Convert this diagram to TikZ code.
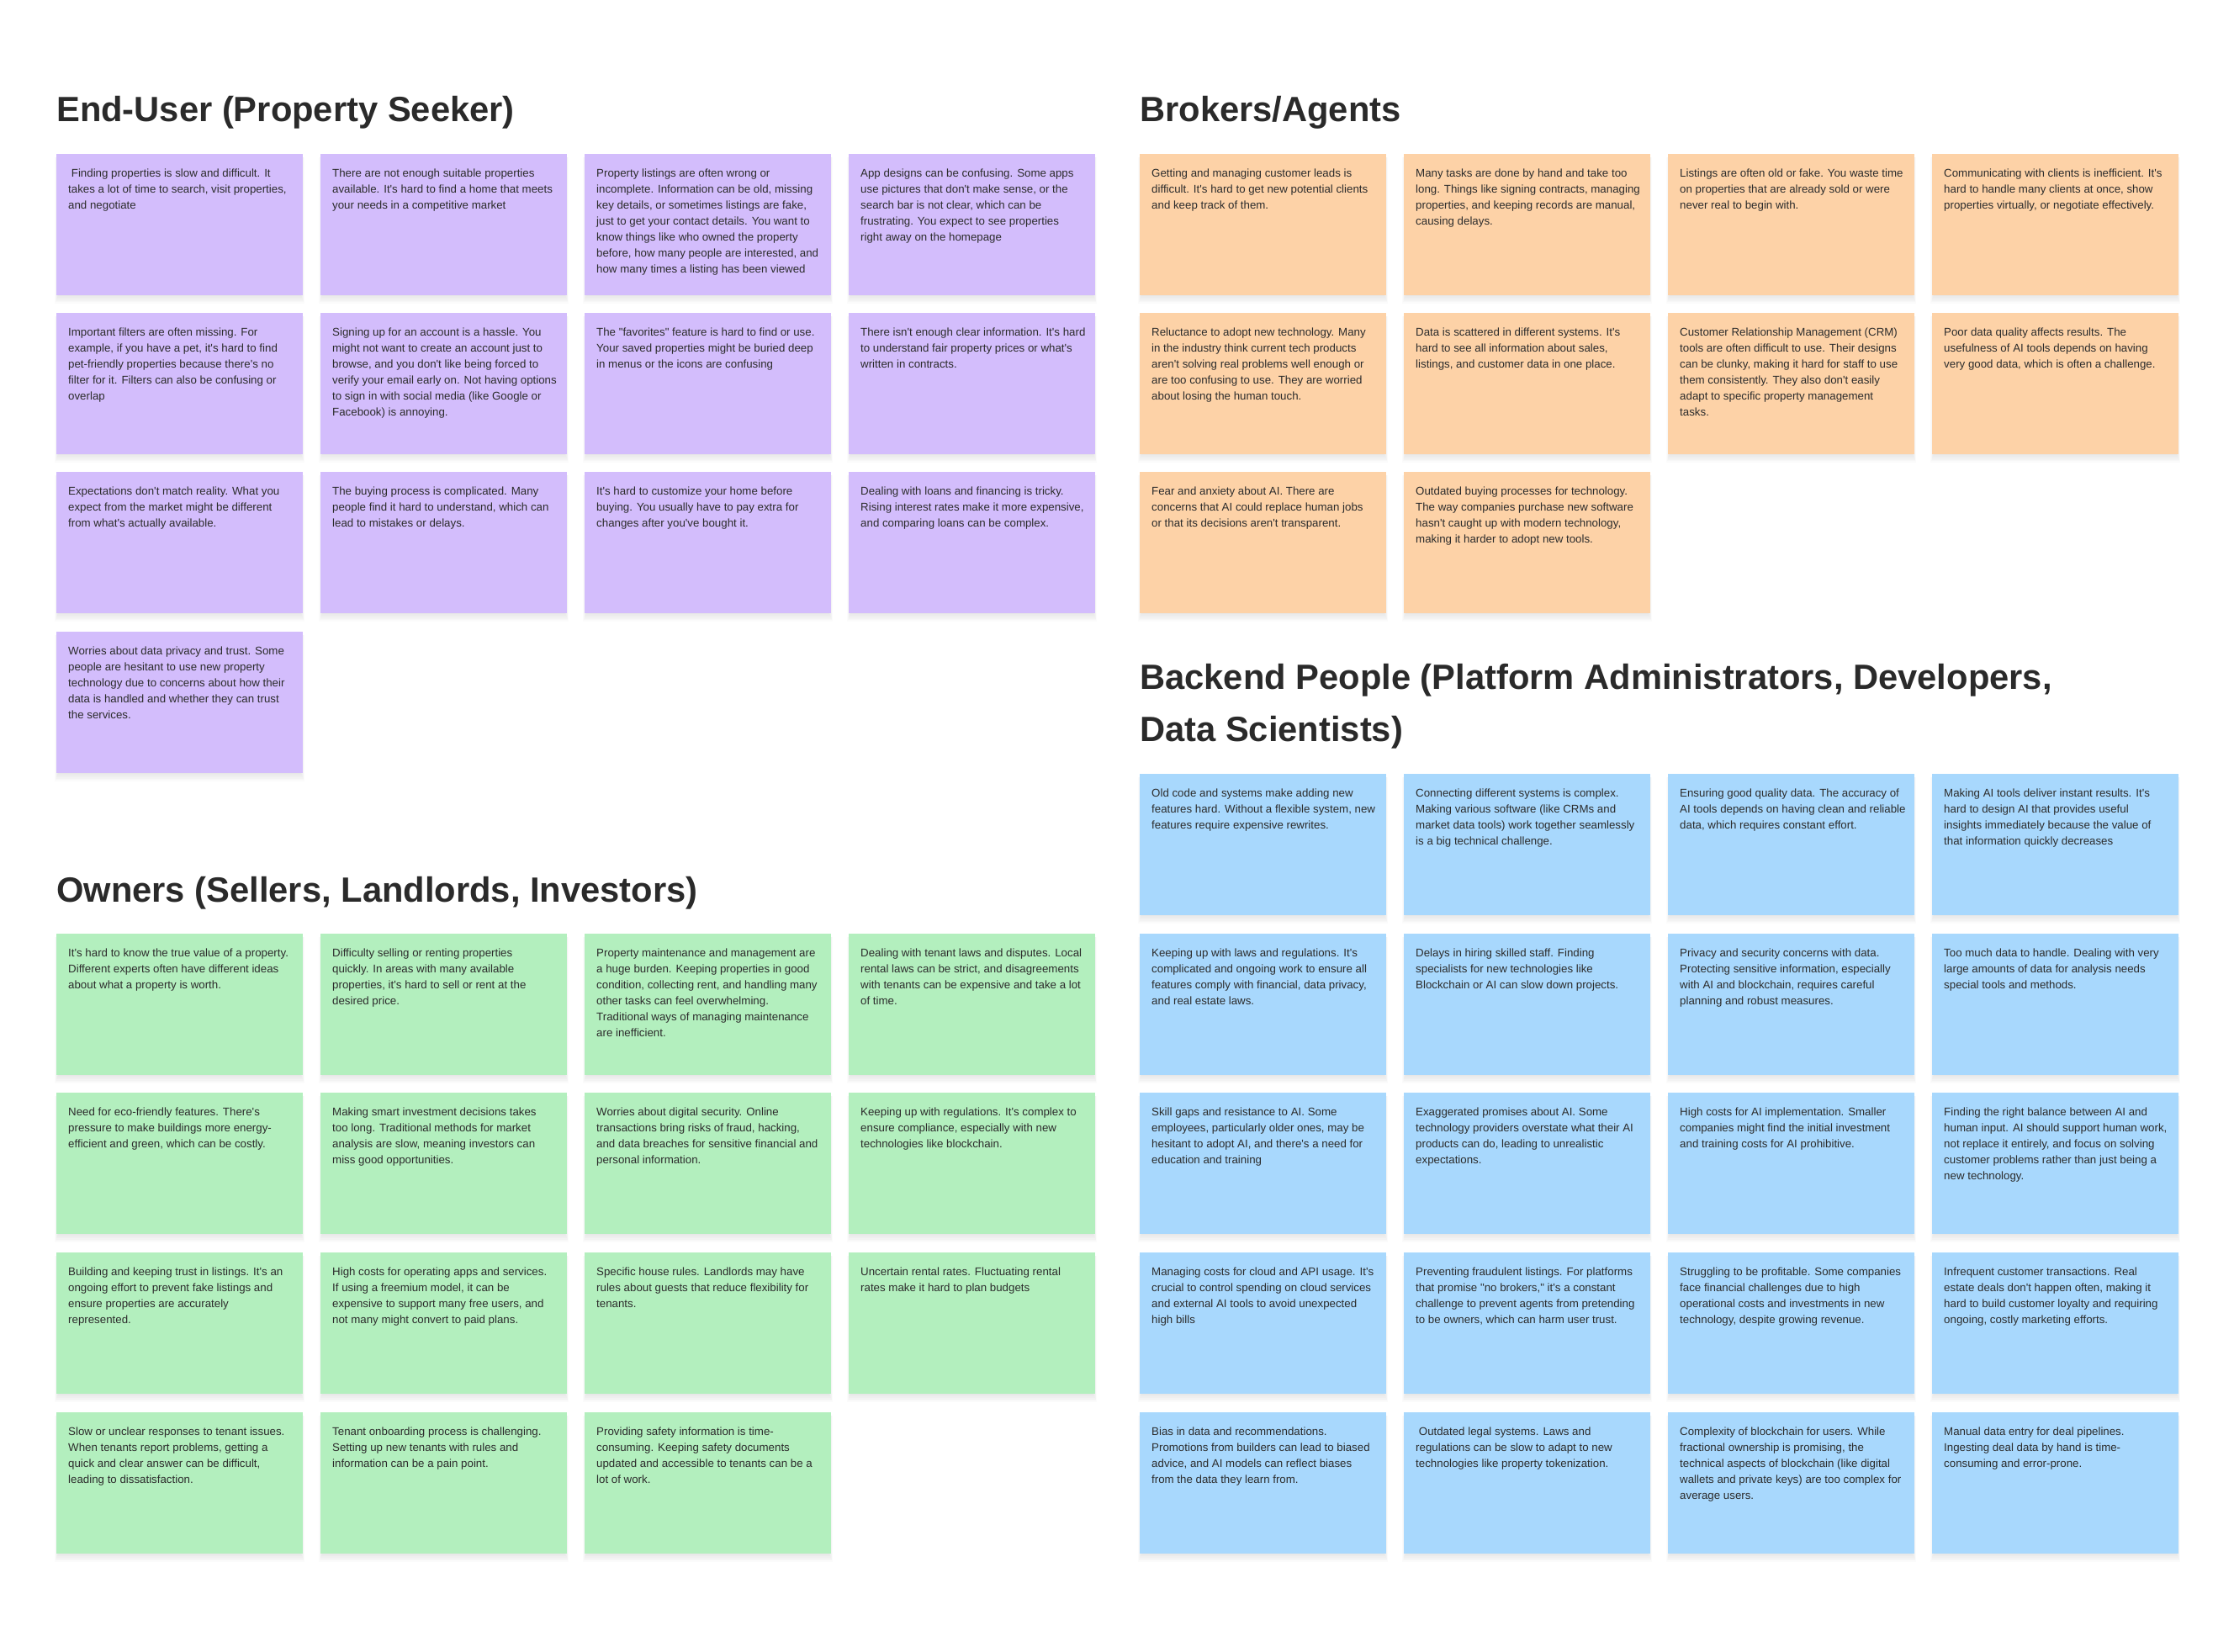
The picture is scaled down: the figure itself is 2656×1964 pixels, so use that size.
\documentclass[tikz,border=0pt]{standalone}
\usepackage{fontspec}
\newfontfamily\notefont{Liberation Sans}
\definecolor{purp}{HTML}{D3BDFC}
\definecolor{oran}{HTML}{FDD2A7}
\definecolor{gree}{HTML}{B3EFBE}
\definecolor{blue}{HTML}{A8D8FD}
\definecolor{notetext}{HTML}{2C2C2C}
\definecolor{headtext}{HTML}{2A2A2A}
\tikzset{
 stickybox/.style={anchor=north west, minimum width=293pt, minimum height=168pt, inner sep=0pt, outer sep=0pt, draw=none},
 stickyshadow/.style={fill=black, fill opacity=0.016, draw=none},
 stickytext/.style={anchor=north west, inner sep=0pt, align=left, text=notetext, font=\notefont\fontsize{13.3}{19}\selectfont},
 heading/.style={anchor=base west, inner sep=0pt, align=left, text=headtext, font=\notefont\bfseries\fontsize{41.7}{62}\selectfont},
}
\newcommand\sticky[5]{%
 \foreach \i in {1,...,7}{\fill[stickyshadow] ({#2+4-0.9*\i},{#3+4}) rectangle ({#2+289+0.9*\i},{#3+166+1.7*\i});}
 \node[stickybox, fill=#4] (#1) at (#2,#3) {};
 \node[stickytext] (#1t) at ([shift={(14,18)}]#1.north west) {#5};
}
\begin{document}
\begin{tikzpicture}[x=1pt,y=-1pt]
\fill[white] (0,0) rectangle (2656,1964);
\useasboundingbox (0,0) rectangle (2656,1964);

% ---------- headings ----------
\node[heading] (hEnd) at (67,145) {End-User (Property Seeker)};
\node[heading] (hBro) at (1355,145) {Brokers/Agents};
\node[heading] (hOwn) at (67,1072) {Owners (Sellers, Landlords, Investors)};
\node[heading, anchor=north west] (hBack) at (1355,789) {Backend People (Platform Administrators, Developers,\\Data Scientists)};

% ---------- End-User ----------
\sticky{e1}{67}{183}{purp}{\ Finding properties is slow and difficult. It\\takes a lot of time to search, visit properties,\\and negotiate}
\sticky{e2}{381}{183}{purp}{There are not enough suitable properties\\available. It's hard to find a home that meets\\your needs in a competitive market}
\sticky{e3}{695}{183}{purp}{Property listings are often wrong or\\incomplete. Information can be old, missing\\key details, or sometimes listings are fake,\\just to get your contact details. You want to\\know things like who owned the property\\before, how many people are interested, and\\how many times a listing has been viewed}
\sticky{e4}{1009}{183}{purp}{App designs can be confusing. Some apps\\use pictures that don't make sense, or the\\search bar is not clear, which can be\\frustrating. You expect to see properties\\right away on the homepage}
\sticky{e5}{67}{372}{purp}{Important filters are often missing. For\\example, if you have a pet, it's hard to find\\pet-friendly properties because there's no\\filter for it. Filters can also be confusing or\\overlap}
\sticky{e6}{381}{372}{purp}{Signing up for an account is a hassle. You\\might not want to create an account just to\\browse, and you don't like being forced to\\verify your email early on. Not having options\\to sign in with social media (like Google or\\Facebook) is annoying.}
\sticky{e7}{695}{372}{purp}{The "favorites" feature is hard to find or use.\\Your saved properties might be buried deep\\in menus or the icons are confusing}
\sticky{e8}{1009}{372}{purp}{There isn't enough clear information. It's hard\\to understand fair property prices or what's\\written in contracts.}
\sticky{e9}{67}{561}{purp}{Expectations don't match reality. What you\\expect from the market might be different\\from what's actually available.}
\sticky{e10}{381}{561}{purp}{The buying process is complicated. Many\\people find it hard to understand, which can\\lead to mistakes or delays.}
\sticky{e11}{695}{561}{purp}{It's hard to customize your home before\\buying. You usually have to pay extra for\\changes after you've bought it.}
\sticky{e12}{1009}{561}{purp}{Dealing with loans and financing is tricky.\\Rising interest rates make it more expensive,\\and comparing loans can be complex.}
\sticky{e13}{67}{751}{purp}{Worries about data privacy and trust. Some\\people are hesitant to use new property\\technology due to concerns about how their\\data is handled and whether they can trust\\the services.}

% ---------- Owners ----------
\sticky{o1}{67}{1110}{gree}{It's hard to know the true value of a property.\\Different experts often have different ideas\\about what a property is worth.}
\sticky{o2}{381}{1110}{gree}{Difficulty selling or renting properties\\quickly. In areas with many available\\properties, it's hard to sell or rent at the\\desired price.}
\sticky{o3}{695}{1110}{gree}{Property maintenance and management are\\a huge burden. Keeping properties in good\\condition, collecting rent, and handling many\\other tasks can feel overwhelming.\\Traditional ways of managing maintenance\\are inefficient.}
\sticky{o4}{1009}{1110}{gree}{Dealing with tenant laws and disputes. Local\\rental laws can be strict, and disagreements\\with tenants can be expensive and take a lot\\of time.}
\sticky{o5}{67}{1299}{gree}{Need for eco-friendly features. There's\\pressure to make buildings more energy-\\efficient and green, which can be costly.}
\sticky{o6}{381}{1299}{gree}{Making smart investment decisions takes\\too long. Traditional methods for market\\analysis are slow, meaning investors can\\miss good opportunities.}
\sticky{o7}{695}{1299}{gree}{Worries about digital security. Online\\transactions bring risks of fraud, hacking,\\and data breaches for sensitive financial and\\personal information.}
\sticky{o8}{1009}{1299}{gree}{Keeping up with regulations. It's complex to\\ensure compliance, especially with new\\technologies like blockchain.}
\sticky{o9}{67}{1489}{gree}{Building and keeping trust in listings. It's an\\ongoing effort to prevent fake listings and\\ensure properties are accurately\\represented.}
\sticky{o10}{381}{1489}{gree}{High costs for operating apps and services.\\If using a freemium model, it can be\\expensive to support many free users, and\\not many might convert to paid plans.}
\sticky{o11}{695}{1489}{gree}{Specific house rules. Landlords may have\\rules about guests that reduce flexibility for\\tenants.}
\sticky{o12}{1009}{1489}{gree}{Uncertain rental rates. Fluctuating rental\\rates make it hard to plan budgets}
\sticky{o13}{67}{1679}{gree}{Slow or unclear responses to tenant issues.\\When tenants report problems, getting a\\quick and clear answer can be difficult,\\leading to dissatisfaction.}
\sticky{o14}{381}{1679}{gree}{Tenant onboarding process is challenging.\\Setting up new tenants with rules and\\information can be a pain point.}
\sticky{o15}{695}{1679}{gree}{Providing safety information is time-\\consuming. Keeping safety documents\\updated and accessible to tenants can be a\\lot of work.}

% ---------- Brokers ----------
\sticky{b1}{1355}{183}{oran}{Getting and managing customer leads is\\difficult. It's hard to get new potential clients\\and keep track of them.}
\sticky{b2}{1669}{183}{oran}{Many tasks are done by hand and take too\\long. Things like signing contracts, managing\\properties, and keeping records are manual,\\causing delays.}
\sticky{b3}{1983}{183}{oran}{Listings are often old or fake. You waste time\\on properties that are already sold or were\\never real to begin with.}
\sticky{b4}{2297}{183}{oran}{Communicating with clients is inefficient. It's\\hard to handle many clients at once, show\\properties virtually, or negotiate effectively.}
\sticky{b5}{1355}{372}{oran}{Reluctance to adopt new technology. Many\\in the industry think current tech products\\aren't solving real problems well enough or\\are too confusing to use. They are worried\\about losing the human touch.}
\sticky{b6}{1669}{372}{oran}{Data is scattered in different systems. It's\\hard to see all information about sales,\\listings, and customer data in one place.}
\sticky{b7}{1983}{372}{oran}{Customer Relationship Management (CRM)\\tools are often difficult to use. Their designs\\can be clunky, making it hard for staff to use\\them consistently. They also don't easily\\adapt to specific property management\\tasks.}
\sticky{b8}{2297}{372}{oran}{Poor data quality affects results. The\\usefulness of AI tools depends on having\\very good data, which is often a challenge.}
\sticky{b9}{1355}{561}{oran}{Fear and anxiety about AI. There are\\concerns that AI could replace human jobs\\or that its decisions aren't transparent.}
\sticky{b10}{1669}{561}{oran}{Outdated buying processes for technology.\\The way companies purchase new software\\hasn't caught up with modern technology,\\making it harder to adopt new tools.}

% ---------- Backend ----------
\sticky{k1}{1355}{920}{blue}{Old code and systems make adding new\\features hard. Without a flexible system, new\\features require expensive rewrites.}
\sticky{k2}{1669}{920}{blue}{Connecting different systems is complex.\\Making various software (like CRMs and\\market data tools) work together seamlessly\\is a big technical challenge.}
\sticky{k3}{1983}{920}{blue}{Ensuring good quality data. The accuracy of\\AI tools depends on having clean and reliable\\data, which requires constant effort.}
\sticky{k4}{2297}{920}{blue}{Making AI tools deliver instant results. It's\\hard to design AI that provides useful\\insights immediately because the value of\\that information quickly decreases}
\sticky{k5}{1355}{1110}{blue}{Keeping up with laws and regulations. It's\\complicated and ongoing work to ensure all\\features comply with financial, data privacy,\\and real estate laws.}
\sticky{k6}{1669}{1110}{blue}{Delays in hiring skilled staff. Finding\\specialists for new technologies like\\Blockchain or AI can slow down projects.}
\sticky{k7}{1983}{1110}{blue}{Privacy and security concerns with data.\\Protecting sensitive information, especially\\with AI and blockchain, requires careful\\planning and robust measures.}
\sticky{k8}{2297}{1110}{blue}{Too much data to handle. Dealing with very\\large amounts of data for analysis needs\\special tools and methods.}
\sticky{k9}{1355}{1299}{blue}{Skill gaps and resistance to AI. Some\\employees, particularly older ones, may be\\hesitant to adopt AI, and there's a need for\\education and training}
\sticky{k10}{1669}{1299}{blue}{Exaggerated promises about AI. Some\\technology providers overstate what their AI\\products can do, leading to unrealistic\\expectations.}
\sticky{k11}{1983}{1299}{blue}{High costs for AI implementation. Smaller\\companies might find the initial investment\\and training costs for AI prohibitive.}
\sticky{k12}{2297}{1299}{blue}{Finding the right balance between AI and\\human input. AI should support human work,\\not replace it entirely, and focus on solving\\customer problems rather than just being a\\new technology.}
\sticky{k13}{1355}{1489}{blue}{Managing costs for cloud and API usage. It's\\crucial to control spending on cloud services\\and external AI tools to avoid unexpected\\high bills}
\sticky{k14}{1669}{1489}{blue}{Preventing fraudulent listings. For platforms\\that promise "no brokers," it's a constant\\challenge to prevent agents from pretending\\to be owners, which can harm user trust.}
\sticky{k15}{1983}{1489}{blue}{Struggling to be profitable. Some companies\\face financial challenges due to high\\operational costs and investments in new\\technology, despite growing revenue.}
\sticky{k16}{2297}{1489}{blue}{Infrequent customer transactions. Real\\estate deals don't happen often, making it\\hard to build customer loyalty and requiring\\ongoing, costly marketing efforts.}
\sticky{k17}{1355}{1679}{blue}{Bias in data and recommendations.\\Promotions from builders can lead to biased\\advice, and AI models can reflect biases\\from the data they learn from.}
\sticky{k18}{1669}{1679}{blue}{\ Outdated legal systems. Laws and\\regulations can be slow to adapt to new\\technologies like property tokenization.}
\sticky{k19}{1983}{1679}{blue}{Complexity of blockchain for users. While\\fractional ownership is promising, the\\technical aspects of blockchain (like digital\\wallets and private keys) are too complex for\\average users.}
\sticky{k20}{2297}{1679}{blue}{Manual data entry for deal pipelines.\\Ingesting deal data by hand is time-\\consuming and error-prone.}
\end{tikzpicture}
\end{document}
